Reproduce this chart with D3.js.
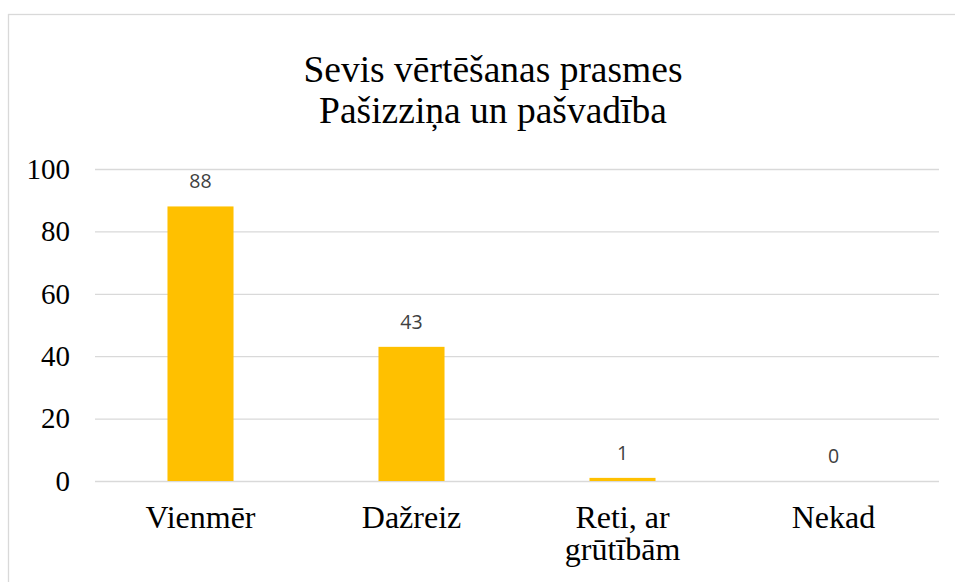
<!DOCTYPE html>
<html>
<head>
<meta charset="utf-8">
<script src="https://cdn.jsdelivr.net/npm/d3@7"></script>
<style>
  html, body { margin: 0; padding: 0; background: #fff; overflow: hidden; }
</style>
</head>
<body>
<svg id="chart" width="955" height="582"></svg>
<script>
const titleLines = ["Sevis vērtēšanas prasmes", "Pašizziņa un pašvadība"];
const categories = ["Vienmēr", "Dažreiz", "Reti, ar grūtībām", "Nekad"];
const values = [88, 43, 1, 0];
const yTicks = [0, 20, 40, 60, 80, 100];

const svg = d3.select("#chart");
const W = 955, H = 582;
const margin = { left: 95, right: 16, top: 169, bottom: 101 };
const plotW = W - margin.left - margin.right;
const plotH = H - margin.top - margin.bottom;

// chart border (frame extends past the window edge)
svg.append("rect")
  .attr("x", 8.5).attr("y", 14.5)
  .attr("width", 1000).attr("height", 700)
  .attr("fill", "#fff")
  .attr("stroke", "#d9d9d9").attr("stroke-width", 1.3);

// title
svg.append("g").selectAll("text")
  .data(titleLines).join("text")
  .attr("x", 493)
  .attr("y", (d, i) => 82 + i * 41)
  .attr("text-anchor", "middle")
  .attr("font-family", "'Liberation Serif', 'Times New Roman', serif")
  .attr("font-size", 37.5)
  .attr("fill", "#000")
  .text(d => d);

const g = svg.append("g").attr("transform", `translate(${margin.left},${margin.top})`);

const x = d3.scaleBand().domain(categories).range([0, plotW])
  .paddingInner(0.687).paddingOuter(0.687 / 2);
const y = d3.scaleLinear().domain([0, 100]).range([plotH, 0]);

// y axis with gridlines
const yAxis = g.append("g")
  .call(d3.axisLeft(y).tickValues(yTicks).tickSize(-plotW).tickPadding(25));
yAxis.select(".domain").remove();
yAxis.selectAll(".tick line").attr("stroke", "#d9d9d9").attr("stroke-width", 1.3);
yAxis.selectAll(".tick text")
  .attr("font-family", "'Liberation Serif', 'Times New Roman', serif")
  .attr("font-size", 29)
  .attr("fill", "#000");

// bars
g.append("g").selectAll("rect")
  .data(values).join("rect")
  .attr("x", (d, i) => x(categories[i]))
  .attr("width", x.bandwidth())
  .attr("y", d => y(d))
  .attr("height", d => plotH - y(d))
  .attr("fill", "#FFC000");

// data labels
g.append("g").selectAll("text")
  .data(values).join("text")
  .attr("x", (d, i) => x(categories[i]) + x.bandwidth() / 2)
  .attr("y", d => y(d) - 18)
  .attr("text-anchor", "middle")
  .attr("font-family", "'Open Sans', 'Noto Sans', sans-serif")
  .attr("font-size", 19.5)
  .attr("fill", "#404040")
  .text(d => d);

// x axis
const xAxis = g.append("g")
  .attr("transform", `translate(0,${plotH})`)
  .call(d3.axisBottom(x).tickSize(0).tickPadding(0));
xAxis.select(".domain").remove();
xAxis.selectAll(".tick text")
  .attr("font-family", "'Liberation Serif', 'Times New Roman', serif")
  .attr("font-size", 32)
  .attr("fill", "#000")
  .attr("y", 47)
  .attr("dy", null)
  .each(function(d) {
    const t = d3.select(this);
    const words = d.split(" ");
    t.text(null);
    const lines = [];
    let line = [];
    const tmp = t.append("tspan");
    words.forEach(w => {
      line.push(w);
      tmp.text(line.join(" "));
      if (tmp.node().getComputedTextLength() > 160 && line.length > 1) {
        line.pop();
        lines.push(line.join(" "));
        line = [w];
      }
    });
    lines.push(line.join(" "));
    tmp.remove();
    lines.forEach((l, i) => {
      t.append("tspan").attr("x", 0).attr("y", 47 + i * 32).text(l);
    });
  });
</script>
</body>
</html>
